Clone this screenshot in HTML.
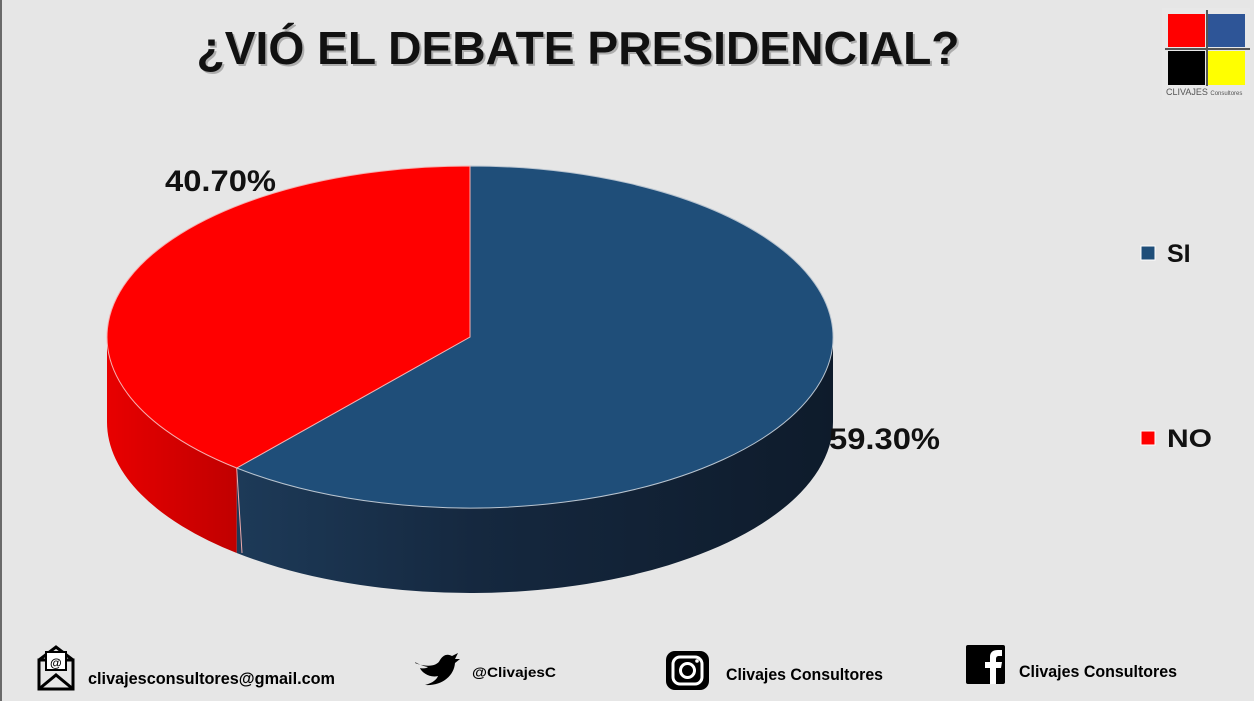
<!DOCTYPE html>
<html><head><meta charset="utf-8"><style>
html,body{margin:0;padding:0;background:#e6e6e6;}
svg{display:block;font-family:"Liberation Sans",sans-serif;font-weight:bold;}
</style></head><body>
<svg width="1254" height="701" viewBox="0 0 1254 701" xmlns="http://www.w3.org/2000/svg">
<defs>
<linearGradient id="bs" x1="0" x2="1" y1="0" y2="0">
<stop offset="0" stop-color="#1d3a58"/><stop offset="0.4" stop-color="#15283f"/><stop offset="1" stop-color="#0e1b2b"/></linearGradient>
<linearGradient id="rs" x1="0" x2="1" y1="0" y2="0">
<stop offset="0" stop-color="#e80000"/><stop offset="1" stop-color="#c00000"/></linearGradient>
</defs>
<rect width="1254" height="701" fill="#e6e6e6"/>
<rect x="0" y="0" width="2" height="701" fill="#6a6a6a"/>
<text x="578" y="64" text-anchor="middle" font-size="46" textLength="763" lengthAdjust="spacingAndGlyphs" fill="#888" opacity="0.6" transform="translate(2,2)">¿VIÓ EL DEBATE PRESIDENCIAL?</text>
<text x="578" y="64" text-anchor="middle" font-size="46" textLength="763" lengthAdjust="spacingAndGlyphs" fill="#111">¿VIÓ EL DEBATE PRESIDENCIAL?</text>
<!-- logo -->
<rect x="1162" y="8" width="88" height="92" fill="#e8e8e8"/>
<rect x="1168" y="14" width="37" height="33" fill="#ff0000"/>
<rect x="1208" y="14" width="37" height="33" fill="#2e5597"/>
<rect x="1168" y="51" width="37" height="34" fill="#000"/>
<rect x="1208" y="51" width="37" height="34" fill="#ffff00"/>
<line x1="1165" y1="49" x2="1250" y2="49" stroke="#555" stroke-width="2"/>
<line x1="1207" y1="10" x2="1207" y2="86" stroke="#555" stroke-width="2"/>
<text x="1166" y="95" font-size="9" font-weight="normal" fill="#555">CLIVAJES <tspan font-size="6">Consultores</tspan></text>
<!-- pie sides -->
<path d="M833,337 A363,171 0 0,1 236.7,468 L236.7,553 A363,171 0 0,0 833,422 Z" fill="url(#bs)"/>
<path d="M236.7,468 A363,171 0 0,1 107,337 L107,422 A363,171 0 0,0 236.7,553 Z" fill="url(#rs)"/>
<line x1="236.7" y1="468" x2="242" y2="553" stroke="#eaa" stroke-width="1"/>
<!-- pie top -->
<path d="M470,337 L470,166 A363,171 0 1,1 236.7,468 Z" fill="#1f4e79" stroke="#b8c4d0" stroke-width="1"/>
<path d="M470,337 L236.7,468 A363,171 0 0,1 470,166 Z" fill="#ff0000" stroke="#f5b0b0" stroke-width="1"/>
<text x="165" y="191" font-size="30" textLength="111" lengthAdjust="spacingAndGlyphs" fill="#111">40.70%</text>
<text x="829" y="449" font-size="30" textLength="111" lengthAdjust="spacingAndGlyphs" fill="#111">59.30%</text>
<!-- legend -->
<rect x="1141" y="246" width="14" height="14" fill="#1f4e79" stroke="#fff" stroke-width="1"/>
<text x="1167" y="262" font-size="25" fill="#111">SI</text>
<rect x="1141" y="431" width="14" height="14" fill="#ff0000" stroke="#fff" stroke-width="1"/>
<text x="1167" y="447" font-size="25" textLength="45" lengthAdjust="spacingAndGlyphs" fill="#111">NO</text>
<!-- footer -->
<g fill="none" stroke="#000" stroke-width="3">
<rect x="39" y="660" width="34" height="29"/>
<path d="M39,660 L56,647 L73,660"/>
<path d="M39,689 L56,675 L73,689"/>
</g>
<rect x="46" y="652" width="20" height="18" fill="#fff" stroke="#000" stroke-width="2"/>
<text x="50" y="667" font-size="12" fill="#000">@</text>
<text x="88" y="684" font-size="17" textLength="247" lengthAdjust="spacingAndGlyphs" fill="#000">clivajesconsultores@gmail.com</text>
<path d="M415,663 C425,667 437,667 440,660 C444,654 448,654 452,656 L458,653 L455,659 L460,659 L455,663 C454,676 442,686 425,685 C433,683 437,679 438,676 C430,678 422,673 420,668 C424,669 427,668 428,667 C420,666 415,661 415,663 Z" fill="#000"/>
<text x="472" y="677" font-size="14" textLength="84" lengthAdjust="spacingAndGlyphs" fill="#000">@ClivajesC</text>
<rect x="666" y="651" width="43" height="39" rx="9" fill="#000"/>
<rect x="673" y="657" width="29" height="27" rx="7" fill="none" stroke="#fff" stroke-width="3"/>
<circle cx="687.5" cy="670.5" r="7" fill="none" stroke="#fff" stroke-width="3"/>
<circle cx="697" cy="661" r="1.8" fill="#fff"/>
<text x="726" y="680" font-size="17" textLength="157" lengthAdjust="spacingAndGlyphs" fill="#000">Clivajes Consultores</text>
<rect x="966" y="645" width="39" height="39" rx="2" fill="#000"/>
<path d="M990,684 L990,668 L985,668 L985,662 L990,662 L990,657 C990,652 993,650 998,650 L1002,650 L1002,656 L999,656 C997,656 996,657 996,659 L996,662 L1002,662 L1001,668 L996,668 L996,684 Z" fill="#fff"/>
<text x="1019" y="677" font-size="17" textLength="158" lengthAdjust="spacingAndGlyphs" fill="#000">Clivajes Consultores</text>
</svg>
</body></html>
